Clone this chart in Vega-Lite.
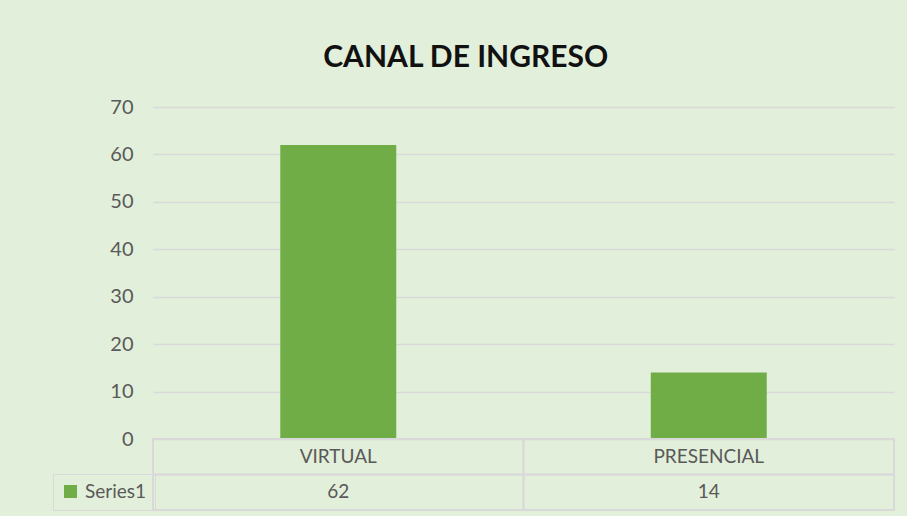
{
  "$schema": "https://vega.github.io/schema/vega-lite/v6.json",
  "background": "#E2EFDA",
  "padding": {"left": 52, "top": 43, "right": 14, "bottom": 7},
  "config": {"view": {"stroke": null}, "font": "Lato"},
  "title": {"text": "CANAL DE INGRESO", "fontSize": 30, "fontWeight": "bold", "color": "#111111", "anchor": "middle", "dx": -8, "offset": 24, "font": "Lato"},
  "datasets": {
    "canal": [
      {"canal": "VIRTUAL", "value": 62, "serie": "Series1"},
      {"canal": "PRESENCIAL", "value": 14, "serie": "Series1"}
    ]
  },
  "spacing": 0,
  "bounds": "flush",
  "vconcat": [
    {
      "width": 741,
      "height": 332,
      "data": {"name": "canal"},
      "mark": {"type": "bar"},
      "encoding": {
        "x": {"field": "canal", "type": "nominal", "sort": ["VIRTUAL", "PRESENCIAL"], "scale": {"paddingInner": 0.687, "paddingOuter": 0.3435}, "axis": null},
        "y": {"field": "value", "type": "quantitative", "scale": {"domain": [0, 70]},
          "axis": {"values": [0, 10, 20, 30, 40, 50, 60, 70], "grid": true, "gridColor": "#D9D9D9", "gridWidth": 1.5, "domain": false, "ticks": false, "labelPadding": 20, "labelFont": "Lato", "labelFontSize": 20, "labelColor": "#595959", "title": null}},
        "color": {"field": "serie", "type": "nominal", "scale": {"range": ["#70AD47"]},
          "legend": {"orient": "none", "legendX": -100, "legendY": 367, "title": null, "symbolType": "square", "symbolSize": 169, "symbolStrokeWidth": 0, "symbolOpacity": 1, "labelFont": "Lato", "labelFontSize": 19, "labelColor": "#595959", "labelOffset": 5, "padding": 8, "strokeColor": "#D9D9D9"}}
      }
    },
    {
      "width": 741,
      "height": 71,
      "data": {"name": "canal"},
      "encoding": {
        "x": {"field": "canal", "type": "nominal", "sort": ["VIRTUAL", "PRESENCIAL"], "scale": {"paddingInner": 0, "paddingOuter": 0}, "axis": null}
      },
      "layer": [
        {
          "mark": {"type": "rect", "fill": "transparent", "stroke": "#D9D9D9", "strokeWidth": 2},
          "encoding": {"y": {"datum": "cat", "type": "nominal", "scale": {"domain": ["cat", "val"], "paddingInner": 0, "paddingOuter": 0}, "axis": null}}
        },
        {
          "mark": {"type": "rect", "fill": "transparent", "stroke": "#D9D9D9", "strokeWidth": 2},
          "encoding": {"y": {"datum": "val", "type": "nominal"}}
        },
        {
          "mark": {"type": "text", "fontSize": 19, "color": "#595959", "font": "Lato"},
          "encoding": {"y": {"datum": "cat", "type": "nominal"}, "text": {"field": "canal"}}
        },
        {
          "mark": {"type": "text", "fontSize": 19, "color": "#595959", "font": "Lato"},
          "encoding": {"y": {"datum": "val", "type": "nominal"}, "text": {"field": "value", "type": "quantitative"}}
        }
      ]
    }
  ],
  "resolve": {"scale": {"x": "independent", "y": "independent"}, "legend": {"color": "independent"}}
}
